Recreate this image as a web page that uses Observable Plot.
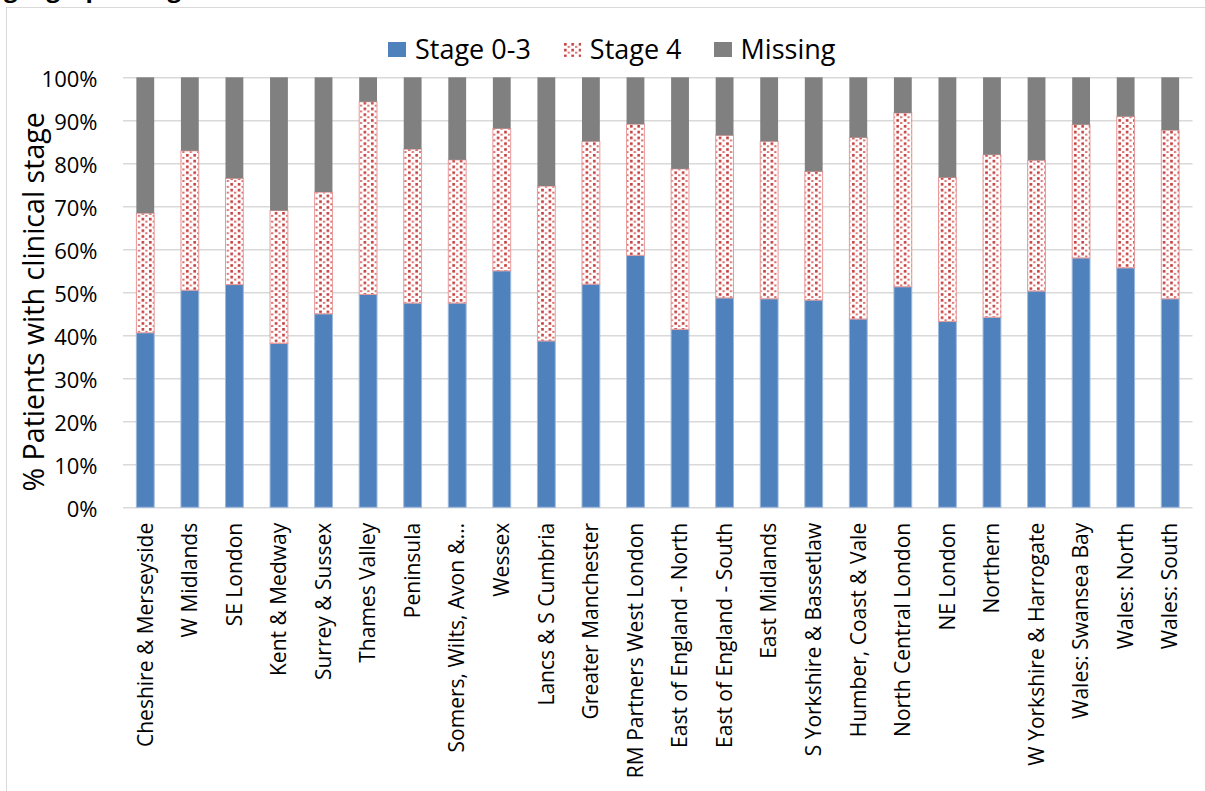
<!DOCTYPE html>
<html>
<head>
<meta charset="utf-8">
<script src="https://cdn.jsdelivr.net/npm/d3@7"></script>
<script src="https://cdn.jsdelivr.net/npm/@observablehq/plot@0.6"></script>
<style>
  html, body { margin: 0; padding: 0; background: #fff; overflow: hidden; }
  body { position: relative; width: 1205px; height: 791px; font-family: "Open Sans", sans-serif; color: #000; }
  #frame { position: absolute; left: 6px; top: 7px; width: 1240px; height: 820px; border: 1.5px solid #d9d9d9; box-sizing: border-box; }
  #title { position: absolute; left: 4px; top: -24px; font-size: 24px; line-height: 24px; font-weight: bold; white-space: nowrap; }
  #legend { position: absolute; left: 388px; top: 31px; display: flex; align-items: center; font-size: 27px; line-height: 36px; }
  #legend .item { display: flex; align-items: center; margin-right: 32px; }
  #legend .sw { width: 18px; height: 15px; margin-right: 9px; display: block; }
  #chart { position: absolute; left: 0; top: 66px; }
</style>
</head>
<body>
<div id="frame"></div>
<div id="title">geographic region</div>
<div id="legend"></div>
<div id="chart"></div>
<script>
// Cancer alliances / regions, left to right
const regions = [
  "Cheshire & Merseyside", "W Midlands", "SE London", "Kent & Medway",
  "Surrey & Sussex", "Thames Valley", "Peninsula", "Somers, Wilts, Avon &…",
  "Wessex", "Lancs & S Cumbria", "Greater Manchester", "RM Partners West London",
  "East of England - North", "East of England - South", "East Midlands",
  "S Yorkshire & Bassetlaw", "Humber, Coast & Vale", "North Central London",
  "NE London", "Northern", "W Yorkshire & Harrogate", "Wales: Swansea Bay",
  "Wales: North", "Wales: South"
];

// Percentage of patients in each stage group
const stage03 = [40.6, 50.5, 51.8, 38.1, 45.0, 49.5, 47.5, 47.5, 55.0, 38.7, 51.9, 58.6,
                 41.4, 48.7, 48.5, 48.2, 43.8, 51.3, 43.2, 44.2, 50.3, 58.0, 55.7, 48.5];
const stage4  = [27.8, 32.4, 24.7, 30.9, 28.3, 44.8, 35.8, 33.3, 33.1, 36.0, 33.2, 30.5,
                 37.3, 37.8, 36.6, 29.9, 42.2, 40.4, 33.5, 37.8, 30.4, 31.0, 35.2, 39.2];
const missing = [31.6, 17.1, 23.5, 31.0, 26.7, 5.7, 16.7, 19.2, 11.9, 25.3, 14.9, 10.9,
                 21.3, 13.5, 14.9, 21.9, 14.0, 8.3, 23.3, 18.0, 19.3, 11.0, 9.1, 12.3];

const stages = ["Stage 0-3", "Stage 4", "Missing"];
const yTicks = [0, 10, 20, 30, 40, 50, 60, 70, 80, 90, 100];
const yTitle = "% Patients with clinical stage";

const fills = ["#4f81bd", "url(#stage4-dots)", "#808080"];

// Long-format rows for the stacked bars
const series = [stage03, stage4, missing];
const rows = [];
regions.forEach((region, i) => {
  stages.forEach((stage, s) => rows.push({region, stage, value: series[s][i]}));
});

const chart = Plot.plot({
  width: 1205,
  height: 725,
  marginLeft: 123,
  marginRight: 12.5,
  marginTop: 11.3,
  marginBottom: 283.7,
  style: {fontFamily: "'Open Sans', sans-serif", color: "#000", background: "transparent", overflow: "visible"},
  x: {domain: regions, paddingInner: 0.6, paddingOuter: 0.3, round: false, label: null},
  y: {domain: [0, 100], label: null},
  color: {domain: stages, range: fills},
  marks: [
    Plot.gridY(yTicks, {stroke: "#d9d9d9", strokeOpacity: 1, strokeWidth: 1.5}),
    Plot.barY(rows, {
      x: "region", y: "value", z: "stage", order: stages,
      fill: "stage",
      stroke: d => d.stage === "Stage 4" ? "#e79a9a" : d.stage === "Stage 0-3" ? "#9db8dc" : "none",
      strokeWidth: 1,
      strokeDasharray: d => d.stage === "Stage 4" ? "2,2" : null
    }),
    Plot.axisY(yTicks, {
      tickSize: 0, tickPadding: 26, fontSize: 22, dy: 2,
      tickFormat: d => d + "%", label: null
    }),
    Plot.text([yTitle], {
      text: d => d, frameAnchor: "left", rotate: -90,
      lineAnchor: "bottom", textAnchor: "middle",
      dx: -80, dy: 9, fontSize: 28.6, fill: "#000"
    }),
    Plot.axisX({tickSize: 0, tickPadding: 15, tickRotate: -90, fontSize: 21, label: null})
  ]
});

// Dotted fill used for the Stage 4 segments
const defs = d3.select(chart).insert("defs", ":first-child");
const pat = defs.append("pattern")
  .attr("id", "stage4-dots")
  .attr("patternUnits", "userSpaceOnUse")
  .attr("width", 7.4).attr("height", 5.8);
pat.append("rect").attr("width", 7.4).attr("height", 5.8).attr("fill", "#fff");
pat.append("rect").attr("x", 1).attr("y", 1).attr("width", 2.6).attr("height", 2.6).attr("fill", "#c43b3b");
pat.append("rect").attr("x", 4.7).attr("y", 3.9).attr("width", 2.2).attr("height", 1.9).attr("fill", "#db6b6b");

document.getElementById("chart").appendChild(chart);

// Legend above the plot
const legend = d3.select("#legend");
stages.forEach((stage, s) => {
  const item = legend.append("div").attr("class", "item");
  const sw = item.append("svg").attr("class", "sw").attr("width", 18).attr("height", 15);
  sw.append("rect").attr("width", 18).attr("height", 15).attr("fill", fills[s]);
  item.append("span").text(stage);
});
</script>
</body>
</html>
